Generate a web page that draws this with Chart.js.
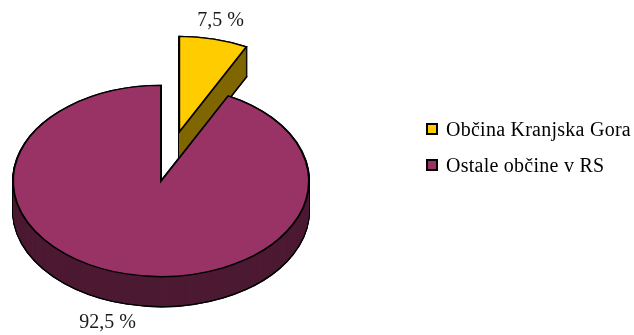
<!DOCTYPE html>
<html>
<head>
<meta charset="utf-8">
<script src="https://cdn.jsdelivr.net/npm/chart.js@4.4.1/dist/chart.umd.min.js"></script>
<style>
    html, body { margin: 0; padding: 0; background: #fff; }
    #wrap { position: relative; width: 634px; height: 335px; }
    #legend { position: absolute; left: 426px; top: 111px; font-family: "Liberation Serif", serif; font-size: 20px; letter-spacing: 0.25px; color: #000; }
    .item { display: flex; align-items: center; height: 36px; white-space: nowrap; }
    .box { width: 8px; height: 8px; border: 2px solid #000; margin-right: 8px; }
</style>
</head>
<body>
<div id="wrap">
    <canvas id="pie-chart"></canvas>
    <div id="legend"></div>
</div>
<script>
const categories = ['Občina Kranjska Gora', 'Ostale občine v RS'];
const shares = [7.5, 92.5];
const topColors = ['#FFCC00', '#993366'];
const sideColors = ['#806600', '#4D1A33'];

const formatShare = v => `${v.toFixed(1).replace('.', ',')} %`;

// fake 3D: squash the pie, stack darker copies underneath, pull slices out
const pie3d = {
    id: 'pie3d',
    beforeDatasetsDraw(chart, args, opts) {
        const ctx = chart.ctx;
        const arcs = chart.getDatasetMeta(0).data;

        const paint = (arc, i, dy, fill, border) => {
            const el = Object.create(arc);
            el.options = Object.assign({}, arc.options, { backgroundColor: fill, borderWidth: border });
            const mid = (arc.startAngle + arc.endAngle) / 2;
            const e = opts.explode[i] || 0;
            ctx.save();
            ctx.translate(arc.x, arc.y + dy);
            ctx.scale(1, opts.tilt);
            ctx.translate(-arc.x + Math.cos(mid) * e, -arc.y + Math.sin(mid) * e);
            el.draw(ctx);
            ctx.restore();
        };

        // black halo first so the outer silhouette of the walls gets an outline
        for (let d = opts.depth; d >= 0; d--) {
            arcs.forEach((arc, i) => paint(arc, i, d, '#000', arc.options.borderWidth));
        }
        for (let d = opts.depth; d >= 1; d--) {
            arcs.forEach((arc, i) => paint(arc, i, d, sideColors[i], d === opts.depth ? arc.options.borderWidth : 0));
        }
        arcs.forEach((arc, i) => paint(arc, i, 0, arc.options.backgroundColor, arc.options.borderWidth));

        // percentage labels
        ctx.save();
        ctx.font = '20px "Liberation Serif", serif';
        ctx.fillStyle = '#1a1a1a';
        ctx.textAlign = 'center';
        ctx.textBaseline = 'middle';
        arcs.forEach((arc, i) => {
            const mid = (arc.startAngle + arc.endAngle) / 2;
            const dist = (opts.explode[i] || 0) + arc.outerRadius * opts.labelRadius;
            const sin = Math.sin(mid);
            const x = arc.x + Math.cos(mid) * dist - (sin > 0 ? opts.lowShift : 0);
            const y = arc.y + sin * dist * opts.tilt + (sin > 0 ? opts.depth : 0);
            ctx.fillText(formatShare(shares[i]), x, y);
        });
        ctx.restore();
        return false;
    }
};

new Chart(document.getElementById('pie-chart').getContext('2d'), {
    type: 'pie',
    data: {
        labels: categories,
        datasets: [{
            data: shares,
            backgroundColor: topColors,
            borderColor: '#000',
            borderWidth: 2,
            borderJoinStyle: 'miter',
        }],
    },
    options: {
        responsive: true,
        maintainAspectRatio: false,
        animation: false,
        layout: { padding: { left: 12, right: 324, top: 32, bottom: 5 } },
        plugins: {
            legend: { display: false },
            tooltip: { enabled: false },
            pie3d: { tilt: 0.646, depth: 30, explode: [78, 0], labelRadius: 1.2, lowShift: 12 },
        },
    },
    plugins: [pie3d],
});

const legend = document.getElementById('legend');
categories.forEach((name, i) => {
    const item = document.createElement('div');
    item.className = 'item';
    item.innerHTML = `<span class="box" style="background:${topColors[i]}"></span><span>${name}</span>`;
    legend.appendChild(item);
});
</script>
</body>
</html>
